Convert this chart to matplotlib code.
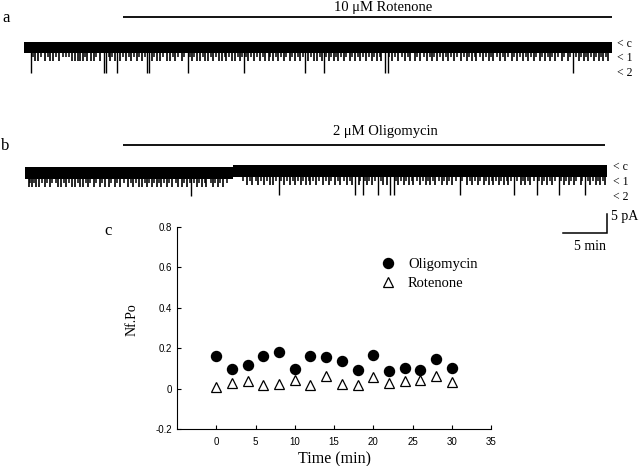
"""
Patch-clamp traces (rotenone / oligomycin) plus Nf.Po time course.
"""
import matplotlib
matplotlib.use("Agg")
import matplotlib.pyplot as plt

W, H = 640, 466
SERIF = ["Liberation Serif", "DejaVu Serif"]
SANS = ["Liberation Sans", "DejaVu Sans"]

# -- panel a: 10 uM rotenone trace (time in min, current in pA) ----------------
rot_duration = 66.8
rot_drug_start = 11.3
rot_unit_pA = 3.8
rot_band_pA = (0.5, -2.4)          # closed-level band (noise + brief flickers)
rot_open1_t = [
    1.3, 1.6, 2.4, 3.0, 3.3, 4.0, 5.4, 5.8, 6.1, 6.4, 6.7, 7.2, 7.6, 7.9,
    8.6, 9.8, 10.3, 10.9, 11.6, 12.2, 12.8, 13.4, 14.5, 15.1, 15.5, 16.2,
    16.6, 17.2, 17.9, 19.1, 19.6, 20.0, 20.6, 20.9, 21.5, 22.1, 22.5, 23.0,
    23.6, 24.0, 24.5, 25.5, 26.1, 26.8, 27.4, 27.8, 28.3, 28.9, 29.5, 30.2,
    30.8, 31.4, 32.3, 32.9, 33.3, 33.8, 34.6, 35.2, 35.7, 36.3, 37.0, 37.6,
    38.2, 38.9, 39.5, 40.1, 40.6, 41.8, 42.5, 43.3, 43.9, 44.4, 45.0, 45.8,
    46.3, 46.9, 47.6, 48.2, 48.8, 49.7, 50.3, 50.9, 51.4, 52.2, 52.8, 53.3,
    54.1, 54.7, 55.4, 56.0, 56.7, 57.3, 57.9, 58.6, 59.2, 59.8, 60.3, 61.1,
    61.8, 63.0, 63.6, 64.1, 64.7, 65.3, 65.8, 66.4,
]
rot_open1_pA = 4.4
rot_partial_t = [
    1.0, 1.9, 2.7, 3.6, 4.4, 4.8, 5.1, 6.9, 8.2, 9.6, 10.0, 11.2, 11.9,
    12.5, 13.1, 13.7, 14.8, 15.8, 16.9, 17.5, 18.2, 18.9, 19.3, 20.3, 21.2,
    21.8, 22.8, 23.3, 24.3, 24.8, 25.2, 25.8, 26.5, 27.1, 28.0, 28.6, 29.2,
    29.8, 30.5, 31.1, 31.7, 32.6, 33.6, 34.3, 34.9, 35.5, 36.0, 36.6, 37.3,
    37.9, 38.5, 39.2, 39.8, 40.4, 41.5, 42.1, 42.9, 43.6, 44.7, 45.4, 46.1,
    46.6, 47.3, 47.9, 48.5, 49.2, 50.0, 50.6, 51.2, 51.8, 52.5, 53.0, 53.7,
    54.4, 55.0, 55.7, 56.3, 57.0, 57.6, 58.2, 58.9, 59.5, 60.0, 60.7, 61.4,
    62.0, 62.7, 63.3, 63.8, 64.4, 65.0, 65.5, 66.1,
]
rot_partial_pA = 3.4
rot_open2_t = [0.8, 9.1, 9.3, 10.6, 14.0, 14.2, 18.6, 25.0, 31.9, 34.1,
               41.0, 41.3, 62.4]
rot_open2_pA = 7.6

# -- panel b: 2 uM oligomycin trace ---------------------------------------------
oli_duration = 66.1
oli_drug_start = 11.1
oli_unit_pA = 4.0
oli_band_pA = (0.4, -2.7)
oli_step_t = 23.6                  # small baseline step
oli_step_pA = -0.4
oli_open1_t = [
    0.4, 0.8, 1.3, 1.6, 2.3, 2.8, 3.8, 4.1, 4.7, 5.3, 5.7, 6.2, 6.6, 7.1,
    7.8, 8.5, 9.1, 9.5, 10.2, 10.8, 11.7, 12.3, 12.9, 13.3, 13.8, 14.4,
    15.0, 15.5, 16.1, 16.7, 17.4, 17.8, 18.4, 19.5, 20.1, 20.6, 21.4, 21.9,
    22.5, 25.2, 25.8, 26.5, 27.1, 27.8, 28.2, 29.4, 30.1, 30.7, 31.3, 31.9,
    32.4, 33.0, 33.9, 34.5, 35.2, 35.8, 36.6, 37.1, 37.9, 38.8, 39.4, 40.7,
    41.1, 42.4, 43.0, 43.6, 44.1, 44.9, 45.5, 46.0, 46.6, 47.4, 47.9, 48.5,
    50.2, 50.8, 51.4, 52.1, 52.7, 53.2, 53.8, 54.4, 54.9, 56.3, 56.8, 57.4,
    58.7, 59.3, 59.8, 61.2, 61.8, 62.3, 63.1, 64.2, 64.8, 65.3, 65.9,
]
oli_open1_pA = 4.8
oli_partial_t = [
    0.6, 1.0, 1.9, 2.5, 3.1, 3.5, 4.4, 5.0, 6.0, 6.9, 7.4, 8.1, 8.8, 9.8,
    10.5, 11.2, 12.0, 12.6, 13.6, 14.1, 14.7, 15.2, 15.8, 16.4, 17.1, 18.1,
    18.7, 19.2, 19.8, 20.4, 21.1, 21.6, 22.2, 22.9, 24.8, 25.5, 26.2, 26.8,
    27.5, 28.5, 29.1, 29.8, 30.4, 31.0, 31.6, 32.2, 32.7, 33.4, 34.2, 34.8,
    35.5, 36.2, 36.9, 38.1, 38.6, 39.1, 39.8, 40.4, 42.1, 42.7, 43.3, 43.9,
    44.5, 45.2, 45.8, 46.3, 47.0, 47.6, 48.2, 48.9, 49.6, 50.5, 51.1, 51.7,
    52.4, 53.0, 53.5, 54.1, 54.7, 55.2, 55.9, 56.6, 57.1, 57.8, 58.4, 59.0,
    59.6, 60.2, 60.9, 61.5, 62.0, 62.6, 63.3, 63.9, 64.5, 65.1, 65.6,
]
oli_partial_pA = 3.8
oli_open2_t = [18.8, 28.8, 37.5, 38.4, 40.1, 41.5, 41.9, 49.4, 55.5, 58.2,
               60.6, 63.6]
oli_open2_pA = 7.3

# -- panel c: Nf.Po ------------------------------------------------------------
time_min = [0, 2, 4, 6, 8, 10, 12, 14, 16, 18, 20, 22, 24, 26, 28, 30]
nfpo_oligomycin = [0.163, 0.097, 0.115, 0.163, 0.180, 0.097, 0.160, 0.155,
                   0.135, 0.094, 0.168, 0.089, 0.100, 0.094, 0.145, 0.100]
nfpo_rotenone = [0.008, 0.028, 0.038, 0.018, 0.025, 0.043, 0.018, 0.061,
                 0.021, 0.016, 0.056, 0.028, 0.038, 0.043, 0.064, 0.033]
x_ticks = [0, 5, 10, 15, 20, 25, 30, 35]
y_ticks = [-0.2, 0, 0.2, 0.4, 0.6, 0.8]
y_ticklabels = ["-0.2", "0", "0.2", "0.4", "0.6", "0.8"]


def px_rect(x0, y0, x1, y1):
    """pixel box (top-left origin) -> figure-fraction rect"""
    return [x0 / W, 1 - y1 / H, (x1 - x0) / W, (y1 - y0) / H]


def draw_trace(ax, duration, band, events, step_t=None, step_pA=0.0):
    """band = closed-level band; events = [(times, depth_pA, linewidth), ...]"""
    def base(t):
        return step_pA if (step_t is not None and t < step_t) else 0.0

    segs = [(0, duration)] if step_t is None else [(0, step_t), (step_t, duration)]
    for a, b in segs:
        off = base(a)
        ax.fill_between([a, b], band[0] + off, band[1] + off,
                        color="black", linewidth=0)
    for times, depth, lw in events:
        for t in times:
            ax.vlines(t, base(t), base(t) - depth, color="black", linewidth=lw)


fig = plt.figure(figsize=(W / 100, H / 100), dpi=100, facecolor="white")

PX_PER_PA = 3.8

# -- trace a ------------------------------------------------------------------
ax_a = fig.add_axes(px_rect(24, 0, 612, 100))
ax_a.set_xlim(0, rot_duration)
ax_a.set_ylim(-56 / PX_PER_PA, 44 / PX_PER_PA)
ax_a.axis("off")
draw_trace(ax_a, rot_duration, rot_band_pA,
           [(rot_partial_t, rot_partial_pA, 1.1),
            (rot_open1_t, rot_open1_pA, 1.2),
            (rot_open2_t, rot_open2_pA, 1.0)])
ax_a.plot([rot_drug_start, rot_duration], [7.1, 7.1], color="black",
          linewidth=1.3, solid_capstyle="butt")
ax_a.text(40.8, 8.7, "10 \u03bcM Rotenone", family=SERIF, fontsize=10.5,
          ha="center", va="baseline")
for k, lab in enumerate(["< c", "< 1", "< 2"]):
    ax_a.text(rot_duration + 0.6, -k * rot_unit_pA, lab, family=SERIF,
              fontsize=8.5, ha="left", va="center", clip_on=False)

# -- trace b ------------------------------------------------------------------
ax_b = fig.add_axes(px_rect(25, 120, 607, 260))
ax_b.set_xlim(0, oli_duration)
ax_b.set_ylim(-93 / PX_PER_PA, 47 / PX_PER_PA)
ax_b.axis("off")
draw_trace(ax_b, oli_duration, oli_band_pA,
           [(oli_partial_t, oli_partial_pA, 1.1),
            (oli_open1_t, oli_open1_pA, 1.2),
            (oli_open2_t, oli_open2_pA, 1.0)],
           step_t=oli_step_t, step_pA=oli_step_pA)
ax_b.plot([oli_drug_start, oli_duration - 0.2], [5.8, 5.8], color="black",
          linewidth=1.3, solid_capstyle="butt")
ax_b.text(40.9, 8.4, "2 \u03bcM Oligomycin", family=SERIF, fontsize=10.5,
          ha="center", va="baseline")
for k, lab in enumerate(["< c", "< 1", "< 2"]):
    ax_b.text(oli_duration + 0.7, -k * oli_unit_pA, lab, family=SERIF,
              fontsize=8.5, ha="left", va="center", clip_on=False)

# scale bar: 5 min x 5 pA
sb_y = -17.4
ax_b.plot([oli_duration - 5, oli_duration, oli_duration],
          [sb_y, sb_y, sb_y + 5], color="black", linewidth=1.1,
          clip_on=False, solid_joinstyle="miter")
ax_b.text(oli_duration + 0.5, sb_y + 4.4, "5 pA", family=SERIF, fontsize=10,
          ha="left", va="center", clip_on=False)
ax_b.text(oli_duration - 1.9, sb_y - 3.4, "5 min", family=SERIF, fontsize=10,
          ha="center", va="center", clip_on=False)

# -- panel c ------------------------------------------------------------------
ax_c = fig.add_axes(px_rect(177, 227, 491, 429))
ax_c.plot(time_min, nfpo_oligomycin, "o", color="black", markersize=7.2,
          label="Oligomycin")
ax_c.plot(time_min, nfpo_rotenone, "^", markerfacecolor="white",
          markeredgecolor="black", markeredgewidth=0.9, markersize=7.2,
          label="Rotenone")
ax_c.set_xlim(-5, 35)
ax_c.set_ylim(-0.2, 0.8)
ax_c.set_xticks(x_ticks)
ax_c.set_yticks(y_ticks)
ax_c.set_yticklabels(y_ticklabels)
for lab in ax_c.get_xticklabels() + ax_c.get_yticklabels():
    lab.set_family(SANS)
    lab.set_fontsize(7)
ax_c.tick_params(direction="in", length=3, width=0.8)
ax_c.tick_params(axis="x", pad=6)
ax_c.tick_params(axis="y", pad=3.5)
for side in ["top", "right"]:
    ax_c.spines[side].set_visible(False)
for side in ["left", "bottom"]:
    ax_c.spines[side].set_linewidth(0.8)
ax_c.set_xlabel("Time (min)", family=SERIF, fontsize=11.5, labelpad=3)
ax_c.set_ylabel("Nf.Po", family=SERIF, fontsize=10)
ax_c.yaxis.set_label_coords(-0.124, 0.54)

ax_c.legend(loc="upper left", bbox_to_anchor=(381 / W, 1 - 258 / H),
            bbox_transform=fig.transFigure, frameon=False, borderpad=0,
            borderaxespad=0, handlelength=1.0, handletextpad=0.85,
            labelspacing=0.4, numpoints=1,
            prop={"family": SERIF, "size": 10.5})

# -- panel letters ------------------------------------------------------------
fig.text(2 / W, 1 - 18 / H, "a", family=SERIF, fontsize=12, va="center")
fig.text(1 / W, 1 - 146 / H, "b", family=SERIF, fontsize=12, va="center")
fig.text(104 / W, 1 - 231 / H, "c", family=SERIF, fontsize=12, va="center")

fig.savefig("out.png", dpi=100, facecolor="white")
